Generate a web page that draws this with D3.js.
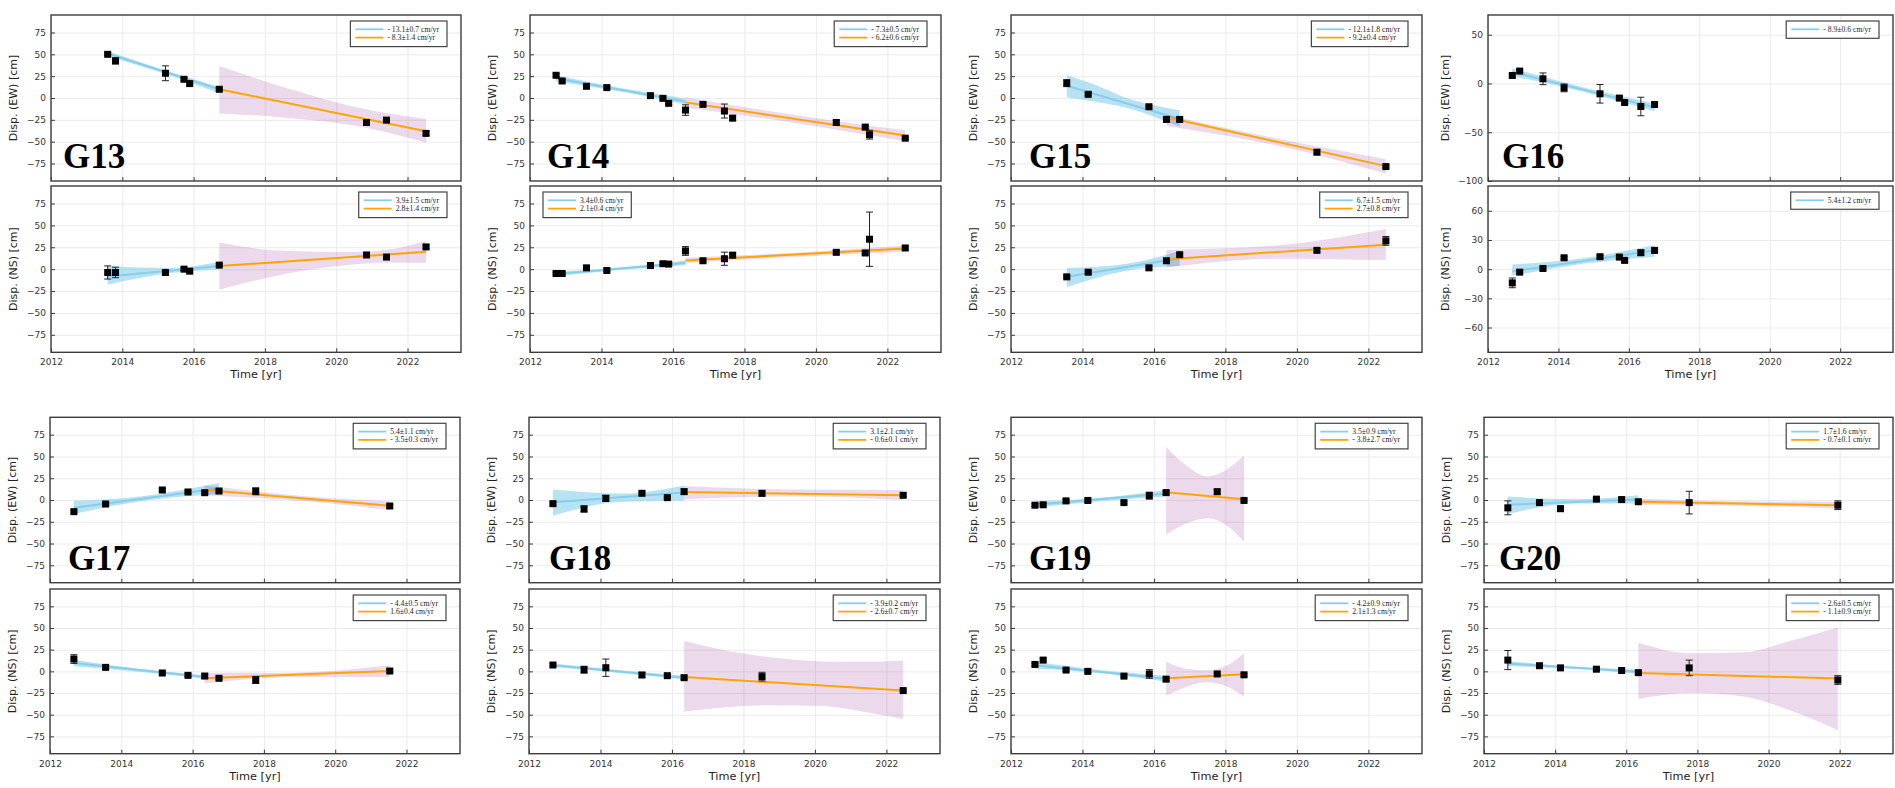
<!DOCTYPE html>
<html><head><meta charset="utf-8">
<script src="https://cdn.jsdelivr.net/npm/d3@7"></script>
<style>
body{margin:0;background:#fff;}
svg{display:block;}
</style></head><body>
<svg id="chart" width="1895" height="788"></svg>
<script>
// ---------------- DATA ----------------
const stations = ["G13","G14","G15","G16","G17","G18","G19","G20"];
const xTicks = [2012, 2014, 2016, 2018, 2020, 2022];
const yTicksStd = [-75, -50, -25, 0, 25, 50, 75];
const yTicksG16ew = [-100, -50, 0, 50];
const yTicksG16ns = [-60, -30, 0, 30, 60];

// G13
const G13_t = [2013.59, 2013.81, 2015.21, 2015.73, 2015.89, 2016.72, 2020.85, 2021.41, 2022.52];
const G13_ew = [50, 42.5, 28.3, 21.4, 16.5, 10, -28, -25.3, -40.5];
const G13_ewErr = [1.5, 3.5, 8.5, 1.5, 1.5, 1.5, 2, 1.5, 2];
const G13_ns = [-3.8, -3.8, -3.8, 0, -2.3, 4.6, 16.2, 13.8, 25.4];
const G13_nsErr = [7.5, 6, 1.5, 1.5, 1.5, 1.5, 1.5, 1.5, 2];
const G13_ewFit1 = [[2013.59, 51], [2016.72, 10]];
const G13_ewBand1 = [[2013.59, 47.5, 53.5], [2015.1, 29, 33], [2016.72, 5.5, 12.5]];
const G13_ewFit2 = [[2016.72, 10], [2022.52, -38]];
const G13_ewBand2 = [[2016.72, -17.6, 36.7], [2018.6, -22.6, 11.4], [2020.9, -34.5, -13.5], [2022.52, -51, -24]];
const G13_nsFit1 = [[2013.59, -8.5], [2016.72, 3.7]];
const G13_nsBand1 = [[2013.59, -17.7, 3.5], [2015.3, -4.8, 1.2], [2016.72, -0.5, 8.5]];
const G13_nsFit2 = [[2016.72, 3.5], [2022.52, 19.8]];
const G13_nsBand2 = [[2016.72, -23.5, 30.4], [2018.5, -6, 21], [2020.4, 5, 19.5], [2021.4, 7.5, 22], [2022.52, 7, 32.3]];
const G13_ewLegend = ["- 13.1±0.7 cm/yr", "- 8.3±1.4 cm/yr"];
const G13_nsLegend = ["3.9±1.5 cm/yr", "2.8±1.4 cm/yr"];

// G14
const G14_t = [2012.73, 2012.90, 2013.58, 2014.15, 2015.37, 2015.72, 2015.88, 2016.35, 2016.84, 2017.44, 2017.67, 2020.57, 2021.38, 2021.50, 2022.50];
const G14_ew = [26, 19.5, 13.4, 11.9, 2.7, -0.4, -6.1, -13.8, -7.3, -14.9, -23, -28, -33.3, -42, -46];
const G14_ewErr = [1.5, 1.5, 1.5, 1.5, 1.5, 1.5, 1.5, 6, 1.5, 8, 3, 2.5, 1.5, 5, 1.5];
const G14_ns = [-5, -5, 1.5, -1.5, 4.2, 6.2, 5.8, 20.8, 9.6, 11.9, 16, 19.2, 18.5, 34.2, 24.2];
const G14_nsErr = [1.5, 1.5, 1.5, 1.5, 1.5, 1.5, 1.5, 5, 1.5, 7.5, 3, 2, 2, 31, 2];
const G14_ewFit1 = [[2012.73, 22.5], [2016.35, -4]];
const G14_ewBand1 = [[2012.73, 19, 26], [2014.5, 7.6, 11.6], [2016.35, -7.5, -0.5]];
const G14_ewFit2 = [[2016.35, -5], [2022.5, -43]];
const G14_ewBand2 = [[2016.35, -11, 1], [2019.4, -28.5, -19.5], [2022.5, -49.5, -37]];
const G14_nsFit1 = [[2012.73, -5.5], [2016.35, 7]];
const G14_nsBand1 = [[2012.73, -8, -3], [2014.5, -1, 2], [2016.35, 4.5, 10]];
const G14_nsFit2 = [[2016.35, 10], [2022.5, 23.5]];
const G14_nsBand2 = [[2016.35, 7, 13], [2019.4, 14, 18.8], [2022.5, 20, 27]];
const G14_ewLegend = ["- 7.3±0.5 cm/yr", "- 6.2±0.6 cm/yr"];
const G14_nsLegend = ["3.4±0.6 cm/yr", "2.1±0.4 cm/yr"];

// G15
const G15_t = [2013.56, 2014.16, 2015.86, 2016.35, 2016.72, 2020.56, 2022.49];
const G15_ew = [17, 4.2, -10, -24.5, -24.5, -62, -78.5];
const G15_ewErr = [4, 1.5, 1.5, 3, 1.5, 3, 1.5];
const G15_ns = [-8.8, -3.5, 1.5, 9.6, 16.5, 21.5, 32.3];
const G15_nsErr = [1.5, 1.5, 1.5, 1.5, 1.5, 2, 5];
const G15_ewFit1 = [[2013.56, 14], [2016.72, -24]];
const G15_ewBand1 = [[2013.56, 0.8, 26.4], [2014.3, -4, 16], [2015.3, -12, -1], [2016.72, -33, -14]];
const G15_ewFit2 = [[2016.35, -22], [2022.49, -78]];
const G15_ewBand2 = [[2016.35, -32, -19.5], [2019.4, -54, -46], [2022.49, -86.5, -70]];
const G15_nsFit1 = [[2013.56, -8.8], [2016.72, 12.4]];
const G15_nsBand1 = [[2013.56, -20.4, 1.5], [2015.2, -2, 6], [2016.72, 3.5, 20.8]];
const G15_nsFit2 = [[2016.35, 11.2], [2022.49, 28]];
const G15_nsBand2 = [[2016.35, 1.9, 22], [2019.4, 12, 27], [2022.49, 10.4, 46]];
const G15_ewLegend = ["- 12.1±1.8 cm/yr", "- 9.2±0.4 cm/yr"];
const G15_nsLegend = ["6.7±1.5 cm/yr", "2.7±0.8 cm/yr"];

// G16
const G16_t = [2012.69, 2012.90, 2013.56, 2014.16, 2015.18, 2015.73, 2015.88, 2016.34, 2016.73];
const G16_ew = [8.2, 12.7, 4.8, -4.5, -10.6, -15, -19.5, -23.6, -21.6];
const G16_ewErr = [1.5, 1.5, 6, 4, 9.5, 1.5, 1.5, 9.5, 2.5];
const G16_ns = [-14.1, -3.1, 0.7, 11.7, 12.8, 12.4, 9, 16.9, 19.3];
const G16_nsErr = [5, 1.5, 1.5, 1.5, 1.5, 1.5, 1.5, 2.5, 2.5];
const G16_ewFit1 = [[2012.69, 11.6], [2016.73, -24.5]];
const G16_ewBand1 = [[2012.69, 7.5, 15.5], [2014.7, -8.5, -4], [2016.73, -28.5, -20.5]];
const G16_nsFit1 = [[2012.69, -2.5], [2016.73, 19.3]];
const G16_nsBand1 = [[2012.69, -6.9, 4.8], [2014.7, 5.5, 11.3], [2016.73, 12.8, 24.8]];
const G16_ewLegend = ["- 8.9±0.6 cm/yr"];
const G16_nsLegend = ["5.4±1.2 cm/yr"];

// G17
const G17_t = [2012.67, 2013.56, 2015.15, 2015.87, 2016.34, 2016.74, 2017.77, 2021.53];
const G17_ew = [-13.4, -4.6, 11.5, 9.2, 8.4, 10.3, 10, -6.9];
const G17_ewErr = [1.5, 1.5, 1.5, 1.5, 1.5, 1.5, 4, 1.5];
const G17_ns = [14.2, 4.6, -1.9, -4.6, -5.4, -8, -10, 0.4];
const G17_nsErr = [5, 1.5, 1.5, 1.5, 2.5, 1.5, 4, 1.5];
const G17_ewFit1 = [[2012.67, -8.8], [2016.74, 13.2]];
const G17_ewBand1 = [[2012.67, -16, -0.8], [2014.7, -0.5, 5], [2016.74, 6.5, 19.5]];
const G17_ewFit2 = [[2016.34, 11.5], [2021.53, -6.5]];
const G17_ewBand2 = [[2016.34, 5.5, 17], [2019, -1, 5], [2021.53, -11.5, -1.5]];
const G17_nsFit1 = [[2012.67, 9.6], [2016.34, -6.5]];
const G17_nsBand1 = [[2012.67, 6, 13.4], [2014.5, -0.5, 3], [2016.34, -8.5, -4.5]];
const G17_nsFit2 = [[2016.34, -8], [2021.53, 0.3]];
const G17_nsBand2 = [[2016.34, -14, -1.9], [2018.9, -6.5, -1.5], [2021.53, -6.9, 6.9]];
const G17_ewLegend = ["5.4±1.1 cm/yr", "- 3.5±0.3 cm/yr"];
const G17_nsLegend = ["- 4.4±0.5 cm/yr", "1.6±0.4 cm/yr"];

// G18
const G18_t = [2012.67, 2013.54, 2014.15, 2015.16, 2015.87, 2016.34, 2018.52, 2022.47];
const G18_ew = [-4.2, -10.3, 1.9, 7.7, 2.7, 9.6, 7.7, 5.4];
const G18_ewErr = [2, 3.5, 3.5, 1.5, 1.5, 3, 3, 1.5];
const G18_ns = [7.3, 1.9, 4.2, -4.2, -5, -7.3, -6.1, -22.2];
const G18_nsErr = [1.5, 4, 10, 3, 1.5, 2, 5, 1.5];
const G18_ewFit1 = [[2012.67, -2.7], [2016.34, 8.7]];
const G18_ewBand1 = [[2012.67, -18, 12.2], [2014.6, -2, 7.5], [2016.34, -0.8, 16.8]];
const G18_ewFit2 = [[2016.34, 9.2], [2022.47, 5.5]];
const G18_ewBand2 = [[2016.34, 0.8, 16], [2019.4, 4, 12], [2022.47, 0, 11.5]];
const G18_nsFit1 = [[2012.67, 6.9], [2016.34, -7.4]];
const G18_nsBand1 = [[2012.67, 5, 9], [2014.5, -1.5, 1.5], [2016.34, -9.5, -5]];
const G18_nsFit2 = [[2016.34, -6.5], [2022.47, -22.2]];
const G18_nsBand2 = [[2016.34, -46.4, 35.3], [2017.5, -41.5, 24], [2018.8, -39, 16], [2020.2, -40, 11.5], [2021.3, -46, 11], [2022.47, -55, 12.5]];
const G18_ewLegend = ["3.1±2.1 cm/yr", "- 0.6±0.1 cm/yr"];
const G18_nsLegend = ["- 3.9±0.2 cm/yr", "- 2.6±0.7 cm/yr"];

// G19
const G19_t = [2012.67, 2012.90, 2013.54, 2014.15, 2015.16, 2015.87, 2016.34, 2017.77, 2018.52];
const G19_ew = [-6, -5.5, -1, -0.5, -3, 5, 8.5, 9.5, -0.5];
const G19_ewErr = [1.5, 1.5, 1.5, 1.5, 1.5, 4, 2, 3, 1.5];
const G19_ns = [8, 13, 1.5, 0, -5.5, -3, -9, -3, -4];
const G19_nsErr = [1.5, 1.5, 1.5, 1.5, 1.5, 5, 2, 2, 1.5];
const G19_ewFit1 = [[2012.67, -5.5], [2016.34, 7.5]];
const G19_ewBand1 = [[2012.67, -9, -1.5], [2014.5, -1.5, 2.5], [2016.34, 4, 11.5]];
const G19_ewFit2 = [[2016.34, 9], [2018.52, 0.8]];
const G19_ewBand2 = [[2016.34, -40, 61], [2016.9, -27, 40], [2017.5, -21, 27], [2018.0, -28, 34], [2018.52, -48, 51]];
const G19_nsFit1 = [[2012.67, 7], [2016.34, -8.5]];
const G19_nsBand1 = [[2012.67, 3, 11], [2014.5, -2, 1.5], [2016.34, -12, -5]];
const G19_nsFit2 = [[2016.34, -8], [2018.52, -3.4]];
const G19_nsBand2 = [[2016.34, -28, 11], [2016.9, -18, 3], [2017.45, -12.7, 1.3], [2018.0, -17, 6], [2018.52, -29, 21]];
const G19_ewLegend = ["3.5±0.9 cm/yr", "- 3.8±2.7 cm/yr"];
const G19_nsLegend = ["- 4.2±0.9 cm/yr", "2.1±1.3 cm/yr"];

// G20
const G20_t = [2012.67, 2013.56, 2014.15, 2015.16, 2015.87, 2016.34, 2017.77, 2021.95];
const G20_ew = [-9, -3, -10, 1, 0.5, -2, -3, -6];
const G20_ewErr = [8, 1.5, 3, 1.5, 1.5, 2, 13, 5];
const G20_ns = [13, 6.5, 4, 2.5, 1, -1.5, 4, -10];
const G20_nsErr = [11, 1.5, 1.5, 1.5, 1.5, 2, 9, 5];
const G20_ewFit1 = [[2012.67, -5.5], [2016.34, 0.7]];
const G20_ewBand1 = [[2012.67, -16, 4], [2014.6, -4, 1], [2016.34, -4, 5.5]];
const G20_ewFit2 = [[2016.34, -2], [2021.95, -6]];
const G20_ewBand2 = [[2016.34, -5.5, 1.5], [2019.2, -6.5, -1.5], [2021.95, -10, -2]];
const G20_nsFit1 = [[2012.67, 9], [2016.34, -0.5]];
const G20_nsBand1 = [[2012.67, 6, 12], [2014.5, 3, 5.5], [2016.34, -3, 2]];
const G20_nsFit2 = [[2016.34, -2], [2021.95, -8.2]];
const G20_nsBand2 = [[2016.34, -32, 33], [2017.8, -25, 21], [2019.3, -29, 22], [2020.6, -45, 35], [2021.95, -68, 51]];
const G20_ewLegend = ["1.7±1.6 cm/yr", "- 0.7±0.1 cm/yr"];
const G20_nsLegend = ["- 2.6±0.5 cm/yr", "- 1.1±0.9 cm/yr"];

// ---------------- TABLE built from the arrays ----------------
const DATA = {
  G13: {t: G13_t, ew: [G13_ew, G13_ewErr, G13_ewFit1, G13_ewBand1, G13_ewFit2, G13_ewBand2, G13_ewLegend],
                  ns: [G13_ns, G13_nsErr, G13_nsFit1, G13_nsBand1, G13_nsFit2, G13_nsBand2, G13_nsLegend]},
  G14: {t: G14_t, ew: [G14_ew, G14_ewErr, G14_ewFit1, G14_ewBand1, G14_ewFit2, G14_ewBand2, G14_ewLegend],
                  ns: [G14_ns, G14_nsErr, G14_nsFit1, G14_nsBand1, G14_nsFit2, G14_nsBand2, G14_nsLegend]},
  G15: {t: G15_t, ew: [G15_ew, G15_ewErr, G15_ewFit1, G15_ewBand1, G15_ewFit2, G15_ewBand2, G15_ewLegend],
                  ns: [G15_ns, G15_nsErr, G15_nsFit1, G15_nsBand1, G15_nsFit2, G15_nsBand2, G15_nsLegend]},
  G16: {t: G16_t, ew: [G16_ew, G16_ewErr, G16_ewFit1, G16_ewBand1, null, null, G16_ewLegend],
                  ns: [G16_ns, G16_nsErr, G16_nsFit1, G16_nsBand1, null, null, G16_nsLegend]},
  G17: {t: G17_t, ew: [G17_ew, G17_ewErr, G17_ewFit1, G17_ewBand1, G17_ewFit2, G17_ewBand2, G17_ewLegend],
                  ns: [G17_ns, G17_nsErr, G17_nsFit1, G17_nsBand1, G17_nsFit2, G17_nsBand2, G17_nsLegend]},
  G18: {t: G18_t, ew: [G18_ew, G18_ewErr, G18_ewFit1, G18_ewBand1, G18_ewFit2, G18_ewBand2, G18_ewLegend],
                  ns: [G18_ns, G18_nsErr, G18_nsFit1, G18_nsBand1, G18_nsFit2, G18_nsBand2, G18_nsLegend]},
  G19: {t: G19_t, ew: [G19_ew, G19_ewErr, G19_ewFit1, G19_ewBand1, G19_ewFit2, G19_ewBand2, G19_ewLegend],
                  ns: [G19_ns, G19_nsErr, G19_nsFit1, G19_nsBand1, G19_nsFit2, G19_nsBand2, G19_nsLegend]},
  G20: {t: G20_t, ew: [G20_ew, G20_ewErr, G20_ewFit1, G20_ewBand1, G20_ewFit2, G20_ewBand2, G20_ewLegend],
                  ns: [G20_ns, G20_nsErr, G20_nsFit1, G20_nsBand1, G20_nsFit2, G20_nsBand2, G20_nsLegend]}
};

// ---------------- LAYOUT ----------------
const LAYOUT = {
  G13: {x: [51, 461],    ew: [15, 181],    ns: [186, 352.3], lab: 12, ylabOff: 38},
  G14: {x: [530, 941],   ew: [15, 181],    ns: [186, 352.3], lab: 17, ylabOff: 38, nsLegLeft: true},
  G15: {x: [1011, 1422], ew: [15, 181],    ns: [186, 352.3], lab: 18, ylabOff: 38},
  G16: {x: [1488, 1893], ew: [15, 181],    ns: [186, 352.3], lab: 14, ylabOff: 43,
        ewDom: [-100, 70.2], ewTicks: yTicksG16ew, nsDom: [-85.5, 85.5], nsTicks: yTicksG16ns},
  G17: {x: [50, 460],    ew: [417.3, 582.7], ns: [589, 753.7], lab: 18, ylabOff: 38},
  G18: {x: [529, 940],   ew: [417.3, 582.7], ns: [589, 753.7], lab: 20, ylabOff: 38},
  G19: {x: [1011, 1422], ew: [417.3, 582.7], ns: [589, 753.7], lab: 18, ylabOff: 38},
  G20: {x: [1484, 1893], ew: [417.3, 582.7], ns: [589, 753.7], lab: 15, ylabOff: 38}
};

const BLUE = "#87CEEB", ORANGE = "#FFA500", PURPLE = "#800080";
const svg = d3.select("#chart");
const SANS = "'DejaVu Sans', sans-serif";
const SERIF = "'Liberation Serif', 'Times New Roman', serif";

function drawPanel(name, comp) {
  const L = LAYOUT[name], D = DATA[name];
  const [vals, errs, fit1, band1, fit2, band2, legend] = D[comp];
  const [px0, px1] = L.x;
  const [py0, py1] = L[comp];
  const ydom = L[comp + "Dom"] || [-95, 95];
  const yticks = L[comp + "Ticks"] || yTicksStd;
  const x = d3.scaleLinear().domain([2012, 2023.5]).range([px0, px1]);
  const y = d3.scaleLinear().domain(ydom).range([py1, py0]);
  const g = svg.append("g");
  const clipId = "clip-" + name + comp;
  g.append("clipPath").attr("id", clipId).append("rect")
    .attr("x", px0).attr("y", py0).attr("width", px1 - px0).attr("height", py1 - py0);

  // grid
  g.append("g").attr("transform", `translate(0,${py1})`)
    .call(d3.axisBottom(x).tickValues(xTicks).tickSize(-(py1 - py0)).tickFormat(""))
    .call(s => s.select(".domain").remove())
    .call(s => s.selectAll("line").attr("stroke", "#e6e6e6").attr("stroke-width", 0.8));
  g.append("g").attr("transform", `translate(${px0},0)`)
    .call(d3.axisLeft(y).tickValues(yticks).tickSize(-(px1 - px0)).tickFormat(""))
    .call(s => s.select(".domain").remove())
    .call(s => s.selectAll("line").attr("stroke", "#e6e6e6").attr("stroke-width", 0.8));

  const plot = g.append("g").attr("clip-path", `url(#${clipId})`);
  const area = d3.area().x(d => x(d[0])).y0(d => y(d[1])).y1(d => y(d[2])).curve(d3.curveMonotoneX);
  const line = d3.line().x(d => x(d[0])).y(d => y(d[1]));

  plot.append("path").datum(band1).attr("d", area).attr("fill", BLUE).attr("fill-opacity", 0.6);
  plot.append("path").datum(fit1).attr("d", line).attr("stroke", BLUE).attr("stroke-width", 2).attr("fill", "none");
  if (band2) {
    plot.append("path").datum(band2).attr("d", area).attr("fill", PURPLE).attr("fill-opacity", 0.15);
    plot.append("path").datum(fit2).attr("d", line).attr("stroke", ORANGE).attr("stroke-width", 2).attr("fill", "none");
  }

  // error bars + markers
  const pts = D.t.map((t, i) => ({t, v: vals[i], e: errs[i]}));
  const eb = plot.append("g").attr("stroke", "#222").attr("stroke-width", 1);
  pts.forEach(p => {
    const cx = x(p.t), ya = y(p.v + p.e), yb = y(p.v - p.e);
    eb.append("line").attr("x1", cx).attr("x2", cx).attr("y1", ya).attr("y2", yb);
    eb.append("line").attr("x1", cx - 3.5).attr("x2", cx + 3.5).attr("y1", ya).attr("y2", ya);
    eb.append("line").attr("x1", cx - 3.5).attr("x2", cx + 3.5).attr("y1", yb).attr("y2", yb);
  });
  plot.append("g").selectAll("rect").data(pts).join("rect")
    .attr("x", d => x(d.t) - 3.5).attr("y", d => y(d.v) - 3.5)
    .attr("width", 7).attr("height", 7).attr("fill", "#000");

  // frame
  g.append("rect").attr("x", px0).attr("y", py0).attr("width", px1 - px0).attr("height", py1 - py0)
    .attr("fill", "none").attr("stroke", "#3c3c3c").attr("stroke-width", 1.4);
  // inward ticks
  g.append("g").attr("transform", `translate(0,${py1})`)
    .call(d3.axisBottom(x).tickValues(xTicks).tickSize(-4).tickFormat(""))
    .call(s => s.select(".domain").remove())
    .call(s => s.selectAll("line").attr("stroke", "#3c3c3c").attr("stroke-width", 1));
  g.append("g").attr("transform", `translate(${px0},0)`)
    .call(d3.axisLeft(y).tickValues(yticks).tickSize(-4).tickFormat(""))
    .call(s => s.select(".domain").remove())
    .call(s => s.selectAll("line").attr("stroke", "#3c3c3c").attr("stroke-width", 1));

  // y tick labels
  g.append("g").attr("transform", `translate(${px0},0)`)
    .call(d3.axisLeft(y).tickValues(yticks).tickSize(0).tickPadding(5))
    .call(s => s.select(".domain").remove())
    .call(s => s.selectAll("text").attr("font-family", SANS).attr("font-size", 9).attr("fill", "#333"));

  // y label
  const yl = px0 - L.ylabOff, ym = (py0 + py1) / 2;
  g.append("text").attr("transform", `translate(${yl},${ym}) rotate(-90)`)
    .attr("text-anchor", "middle").attr("dominant-baseline", "central")
    .attr("font-family", SANS).attr("font-size", 11).attr("fill", "#222")
    .text(comp === "ew" ? "Disp. (EW) [cm]" : "Disp. (NS) [cm]");

  if (comp === "ns") {
    g.append("g").attr("transform", `translate(0,${py1})`)
      .call(d3.axisBottom(x).tickValues(xTicks).tickSize(0).tickPadding(6.5).tickFormat(d3.format("d")))
      .call(s => s.select(".domain").remove())
      .call(s => s.selectAll("text").attr("font-family", SANS).attr("font-size", 9).attr("fill", "#333"));
    g.append("text").attr("x", (px0 + px1) / 2).attr("y", py1 + 26)
      .attr("text-anchor", "middle").attr("font-family", SANS).attr("font-size", 11.3).attr("fill", "#222")
      .text("Time [yr]");
  } else {
    g.append("text").attr("x", px0 + L.lab).attr("y", py1 - 13)
      .attr("font-family", SERIF).attr("font-weight", "bold").attr("font-size", 35).attr("fill", "#000")
      .text(name);
  }

  // legend
  const lg = g.append("g");
  const colors = [BLUE, ORANGE];
  const texts = legend.map((s, i) => lg.append("text").attr("font-family", SERIF).attr("font-size", 7.7)
    .attr("fill", "#222").attr("dominant-baseline", "central").text(s));
  const tw = d3.max(texts, t => t.node().getComputedTextLength());
  const W = 37 + tw + 8, H = 9 + 8.3 * legend.length;
  const leftLeg = comp === "ns" && L.nsLegLeft;
  const bx = leftLeg ? px0 + 13 : px1 - 14 - W, by = py0 + 6;
  lg.insert("rect", "text").attr("x", bx).attr("y", by).attr("width", W).attr("height", H)
    .attr("fill", "#fff").attr("stroke", "#444").attr("stroke-width", 1.2);
  legend.forEach((s, i) => {
    const cy = by + 8.3 * (i + 1);
    lg.append("line").attr("x1", bx + 5).attr("x2", bx + 33).attr("y1", cy).attr("y2", cy)
      .attr("stroke", colors[i]).attr("stroke-width", 1.8);
    texts[i].attr("x", bx + 37).attr("y", cy);
  });
}

stations.forEach(s => { drawPanel(s, "ew"); drawPanel(s, "ns"); });
</script>
</body></html>
